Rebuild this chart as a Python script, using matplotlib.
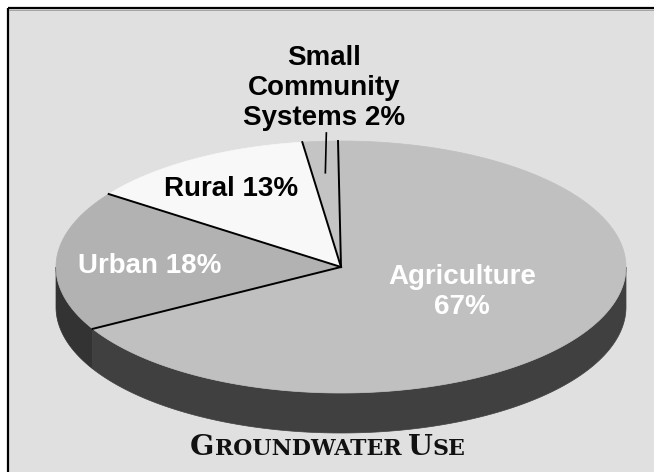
import numpy as np
import matplotlib
matplotlib.use('Agg')
import matplotlib.pyplot as plt
from matplotlib.patches import Polygon, Rectangle

# ---------------- data ----------------
categories = ['Small Community Systems', 'Rural', 'Urban', 'Agriculture']
shares = [2, 13, 18, 67]
labels = ['Small\nCommunity\nSystems 2%', 'Rural 13%', 'Urban 18%', 'Agriculture\n67%']
title_parts = ['G', 'ROUNDWATER', 'U', 'SE']

# ---------------- style ----------------
top_colors = ['#c4c4c4', '#f8f8f8', '#b2b2b2', '#c0c0c0']
side_colors = ['#404040', '#404040', '#333333', '#404040']
label_colors = ['black', 'black', 'white', 'white']

W, H = 654, 472
fig = plt.figure(figsize=(W / 100, H / 100), dpi=100)
fig.patch.set_facecolor('white')
ax = fig.add_axes([0, 0, 1, 1])
ax.set_xlim(0, W)
ax.set_ylim(H, 0)
ax.axis('off')

# panel background and frame
ax.add_patch(Rectangle((8, 8), W - 8, H - 8, facecolor='#e0e0e0', edgecolor='none', zorder=0))
ax.plot([8, W], [8, 8], color='black', lw=1.6, solid_capstyle='butt', zorder=1)
ax.plot([8, 8], [8, H], color='black', lw=1.6, solid_capstyle='butt', zorder=1)
ax.plot([9, W], [10.2, 10.2], color='#9a9a9a', lw=0.6, zorder=1)

# pie geometry (pixels)
cx, cy, a, b, depth = 341, 267, 285, 126, 40
start = 90.6


def pt(theta_deg, r=1.0, dz=0.0):
    t = np.radians(theta_deg)
    return cx + r * a * np.cos(t), cy - r * b * np.sin(t) + dz


fr = np.array(shares, dtype=float) / sum(shares)
bounds = start + np.concatenate([[0], np.cumsum(fr) * 360])

# side walls (front half only)
for i in range(len(shares)):
    t0, t1 = bounds[i], bounds[i + 1]
    for k in range(-1, 3):
        lo = max(t0, 180 + 360 * k)
        hi = min(t1, 360 + 360 * k)
        if hi <= lo:
            continue
        ts = np.linspace(lo, hi, 200)
        top = [pt(t) for t in ts]
        bot = [pt(t, dz=depth) for t in ts[::-1]]
        ax.add_patch(Polygon(top + bot, closed=True, facecolor=side_colors[i],
                             edgecolor=side_colors[i], lw=0.5, zorder=2))

# top wedges
for i in range(len(shares)):
    ts = np.linspace(bounds[i], bounds[i + 1], 300)
    poly = [(cx, cy)] + [pt(t) for t in ts]
    ax.add_patch(Polygon(poly, closed=True, facecolor=top_colors[i],
                         edgecolor=top_colors[i], lw=0.5, zorder=3))

# radial boundary lines
for t in bounds[:-1]:
    x1, y1 = pt(t)
    ax.plot([cx, x1], [cy, y1], color='black', lw=1.4, zorder=4)

# labels
label_pos = [(324, 88), (231, 189), (150, 266), (462, 292)]
for i, lab in enumerate(labels):
    ax.text(label_pos[i][0], label_pos[i][1], lab, ha='center', va='center',
            fontsize=20, fontweight='bold', family='Liberation Sans',
            color=label_colors[i], linespacing=1.2, zorder=5)

# leader line for the small slice
mid_small = (bounds[0] + bounds[1]) / 2
lx, ly = pt(mid_small, r=0.75)
ax.plot([lx + 1, lx], [133, ly], color='black', lw=1.2, zorder=4)

# title in small caps
renderer = fig.canvas.get_renderer()
big, small = 20.5, 15.8
sizes = [big, small, big, small]
tfam = 'DejaVu Serif'
widths = []
for s, fs in zip(title_parts, sizes):
    t = ax.text(0, 0, s, fontsize=fs, fontweight='bold', family=tfam)
    bb = t.get_window_extent(renderer=renderer)
    widths.append(bb.width)
    t.remove()
gap = 7
total = sum(widths) + gap
x = 328 - total / 2
base_y = 455
for j, (s, fs) in enumerate(zip(title_parts, sizes)):
    ax.text(x, base_y, s, fontsize=fs, fontweight='bold', family=tfam,
            ha='left', va='baseline', color='#111111', zorder=5)
    x += widths[j]
    if j == 1:
        x += gap

fig.savefig('out.png', dpi=100, facecolor=fig.get_facecolor())
